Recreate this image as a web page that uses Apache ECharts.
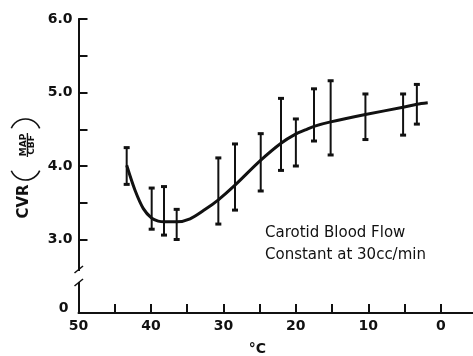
<!DOCTYPE html>
<html>
<head>
<meta charset="utf-8">
<script src="https://cdn.jsdelivr.net/npm/echarts@6/dist/echarts.min.js"></script>
<style>
html,body{margin:0;padding:0;background:#fff;}
#chart{width:473px;height:356px;}
</style>
</head>
<body>
<div id="chart"></div>
<script>
// ---- data ----
const xTickValues = [50, 45, 40, 35, 30, 25, 20, 15, 10, 5, 0];
const xLabelValues = [50, 40, 30, 20, 10, 0];
const yTickValues = [3, 3.5, 4, 4.5, 5, 5.5, 6];
// broken axis: the "0" of the original sits where 2.0 would be
const yLabelValues = [2, 3, 4, 5, 6];
const yLabelTexts = ['0', '3.0', '4.0', '5.0', '6.0'];

const barTemps = [43.35, 39.9, 38.2, 36.45, 30.7, 28.4, 24.85, 22.05, 20.0, 17.5, 15.2, 10.4, 5.2, 3.3];
const barHigh  = [4.25, 3.70, 3.72, 3.41, 4.11, 4.30, 4.44, 4.92, 4.64, 5.05, 5.16, 4.98, 4.98, 5.11];
const barLow   = [3.75, 3.14, 3.06, 3.00, 3.21, 3.40, 3.66, 3.94, 4.00, 4.34, 4.15, 4.36, 4.42, 4.57];

const curveTemps  = [43.35, 42.2, 41.05, 39.9, 39.0, 38.15, 36.45, 34.6, 32.5, 30.7, 28.4, 24.95, 22.05, 20.1, 18.7, 17.5, 15.2, 10.4, 5.2, 3.3, 1.8];
const curveValues = [4.01, 3.67, 3.42, 3.29, 3.25, 3.24, 3.24, 3.28, 3.41, 3.54, 3.74, 4.07, 4.31, 4.43, 4.49, 4.54, 4.60, 4.70, 4.80, 4.84, 4.86];

const xName = '°C';
const yTitleMain = 'CVR';
const yTitleNum = 'MAP';
const yTitleDen = 'CBF';
const noteLines = ['Carotid Blood Flow', 'Constant at 30cc/min'];

// ---- chart ----
const INK = '#111';
const chart = echarts.init(document.getElementById('chart'), null, {renderer: 'canvas'});

const barData = barTemps.map((t, i) => [t, barLow[i], barHigh[i]]);
const curveData = curveTemps.map((t, i) => [t, curveValues[i]]);

const option = {
  animation: false,
  backgroundColor: '#fff',
  grid: {left: 78.5, right: -4, top: 19, bottom: 43, containLabel: false, outerBoundsMode: 'none'},
  xAxis: {
    type: 'value', inverse: true, min: -5, max: 50, interval: 5,
    axisLine: {show: true, onZero: false, lineStyle: {color: INK, width: 2}},
    axisTick: {show: true, inside: true, length: 9, customValues: xTickValues, lineStyle: {color: INK, width: 2}},
    axisLabel: {show: true, customValues: xLabelValues, margin: 6, color: INK,
      fontFamily: 'DejaVu Sans', fontWeight: 'bold', fontSize: 14,
      formatter: v => String(v)},
    splitLine: {show: false}
  },
  yAxis: {
    type: 'value', min: 2, max: 6, interval: 0.5,
    axisLine: {show: true, onZero: false, lineStyle: {color: INK, width: 2}},
    axisTick: {show: true, inside: true, length: 9, customValues: yTickValues, lineStyle: {color: INK, width: 2}},
    axisLabel: {show: true, customValues: yLabelValues, margin: 6, color: INK,
      fontFamily: 'DejaVu Sans', fontWeight: 'bold', fontSize: 14,
      formatter: v => {
        const i = yLabelValues.indexOf(v);
        const t = i >= 0 ? yLabelTexts[i] : '';
        return v === yLabelValues[0] ? '{z|' + t + '}' : t;
      },
      rich: {z: {fontFamily: 'DejaVu Sans', fontWeight: 'bold', fontSize: 14, color: INK, padding: [0, 4, 9, 0]}}
    },
    splitLine: {show: false}
  },
  series: [
    {
      type: 'custom',
      data: barData,
      encode: {x: 0, y: [1, 2]},
      renderItem: function (params, api) {
        const t = api.value(0);
        const pLo = api.coord([t, api.value(1)]);
        const pHi = api.coord([t, api.value(2)]);
        const w = 3;
        return {
          type: 'group',
          children: [
            {type: 'line', shape: {x1: pLo[0], y1: pLo[1], x2: pHi[0], y2: pHi[1]}, style: {stroke: INK, lineWidth: 2}},
            {type: 'line', shape: {x1: pHi[0] - w, y1: pHi[1], x2: pHi[0] + w, y2: pHi[1]}, style: {stroke: INK, lineWidth: 3}},
            {type: 'line', shape: {x1: pLo[0] - w, y1: pLo[1], x2: pLo[0] + w, y2: pLo[1]}, style: {stroke: INK, lineWidth: 3}}
          ]
        };
      }
    },
    {
      type: 'line',
      data: curveData,
      smooth: 0.3,
      showSymbol: false,
      symbol: 'none',
      lineStyle: {color: INK, width: 3}
    }
  ],
  graphic: [
    // axis break marks on the y axis
    {type: 'rect', shape: {x: 74, y: 271, width: 10, height: 11}, style: {fill: '#fff'}, z: 100},
    {type: 'line', shape: {x1: 74.5, y1: 273, x2: 83, y2: 266}, style: {stroke: INK, lineWidth: 1.5}, z: 101},
    {type: 'line', shape: {x1: 74.5, y1: 286, x2: 83, y2: 279}, style: {stroke: INK, lineWidth: 1.5}, z: 101},
    // y-axis title: CVR (MAP / CBF)
    {type: 'text', x: 24, y: 201.5, rotation: Math.PI / 2,
      style: {text: yTitleMain, fill: INK, font: 'bold 15px "DejaVu Sans"', align: 'center', verticalAlign: 'middle'}},
    {type: 'text', x: 23.3, y: 145, rotation: Math.PI / 2,
      style: {text: yTitleNum, fill: INK, font: 'bold 9px "DejaVu Sans"', align: 'center', verticalAlign: 'middle'}},
    {type: 'text', x: 31.5, y: 145, rotation: Math.PI / 2,
      style: {text: yTitleDen, fill: INK, font: 'bold 9px "DejaVu Sans"', align: 'center', verticalAlign: 'middle'}},
    {type: 'line', shape: {x1: 27.4, y1: 133, x2: 27.4, y2: 157}, style: {stroke: INK, lineWidth: 1.3}},
    {type: 'arc', shape: {cx: 25.5, cy: 134.5, r: 15.5, startAngle: -2.73, endAngle: -0.41, clockwise: true},
      style: {stroke: INK, lineWidth: 1.6, fill: null}},
    {type: 'arc', shape: {cx: 25.5, cy: 164.5, r: 15.5, startAngle: 0.41, endAngle: 2.73, clockwise: true},
      style: {stroke: INK, lineWidth: 1.6, fill: null}},
    // x-axis name
    {type: 'text', x: 257.5, y: 349,
      style: {text: xName, fill: INK, font: 'bold 14px "DejaVu Sans"', align: 'center', verticalAlign: 'middle'}},
    // annotation
    {type: 'text', x: 265, y: 233.5,
      style: {text: noteLines[0], fill: INK, font: '15px "DejaVu Sans"', align: 'left', verticalAlign: 'middle'}},
    {type: 'text', x: 265, y: 255.5,
      style: {text: noteLines[1], fill: INK, font: '15px "DejaVu Sans"', align: 'left', verticalAlign: 'middle'}}
  ]
};
chart.setOption(option);
</script>
</body>
</html>
